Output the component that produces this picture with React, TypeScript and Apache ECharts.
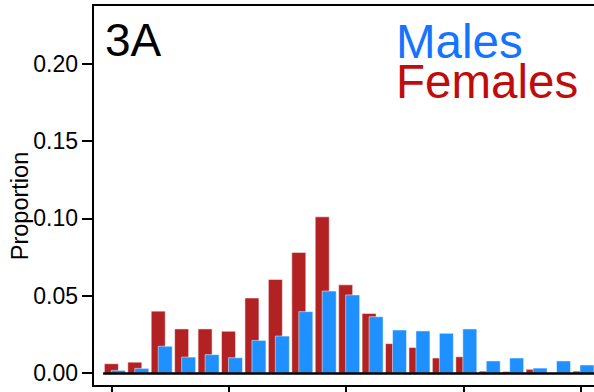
import { useEffect, useRef } from "react";
import * as echarts from "echarts";

// Histogram bins (index of each bin along the x axis)
const binIndex = [0, 1, 2, 3, 4, 5, 6, 7, 8, 9, 10, 11, 12, 13, 14, 15, 16, 17, 18, 19, 20];

// Proportion of individuals falling in each bin
const females = [
  0.006, 0.007, 0.04, 0.0285, 0.0285, 0.027, 0.0485, 0.0605, 0.078, 0.101, 0.057,
  0.0385, 0.019, 0.0165, 0.0097, 0.0105, 0.0012, 0.001, 0.0024, 0, 0.0012,
];
const males = [
  0.0017, 0.003, 0.0173, 0.0103, 0.0119, 0.0099, 0.0211, 0.0239, 0.0397, 0.053, 0.0505,
  0.0364, 0.0278, 0.0272, 0.0257, 0.0285, 0.0078, 0.0097, 0.0032, 0.0078, 0.0052,
];

// Axis ticks
const yTicks = [0, 0.05, 0.1, 0.15, 0.2];
const xTicks = [-0.13, 4.87, 9.87, 14.87, 19.87];

const panelLabel = "3A";
const yTitle = "Proportion";
const maleLabel = "Males";
const femaleLabel = "Females";

const FONT = "'Liberation Sans', Arial, Helvetica, sans-serif";
const RED = "#B22222";
const BLUE = "#1E90FF";
const BAR_W = 14;

// Draws one bar of a pair; the two sexes overlap by half a bar width
function pairedBar(color: string, shift: number) {
  return (_params: any, api: any) => {
    const x = api.value(0);
    const v = api.value(1);
    const base = api.coord([x, 0]);
    const top = api.coord([x, v]);
    return {
      type: "rect",
      shape: {
        x: base[0] + shift - BAR_W / 2,
        y: top[1],
        width: BAR_W,
        height: base[1] - top[1],
      },
      style: {
        fill: color,
        stroke: "rgba(255,255,255,0.5)",
        lineWidth: 1,
      },
    };
  };
}

export default function App() {
  const ref = useRef<HTMLDivElement>(null);

  useEffect(() => {
    if (!ref.current) return;
    const chart = echarts.init(ref.current, undefined, { renderer: "svg" });

    const option: any = {
      animation: false,
      backgroundColor: "#fff",
      grid: {
        left: 93,
        top: 5,
        width: 525.6,
        height: 381,
        show: true,
        borderColor: "#000",
        borderWidth: 2,
        backgroundColor: "transparent",
      },
      xAxis: {
        type: "value",
        min: -0.933,
        max: 21.5,
        axisLine: { show: false, onZero: false },
        axisTick: {
          show: true,
          inside: false,
          customValues: xTicks,
          length: 10,
          lineStyle: { color: "#000", width: 2 },
        },
        axisLabel: { show: false },
        splitLine: { show: false },
      },
      yAxis: {
        type: "value",
        min: -0.0084,
        max: 0.238,
        axisLine: { show: false, onZero: false },
        axisTick: {
          show: true,
          inside: false,
          customValues: yTicks,
          length: 11,
          lineStyle: { color: "#000", width: 2 },
        },
        axisLabel: {
          customValues: yTicks,
          formatter: (v: number) => v.toFixed(2),
          fontSize: 23,
          fontFamily: FONT,
          color: "#000",
          margin: 15,
        },
        splitLine: { show: false },
      },
      series: [
        {
          type: "custom",
          name: femaleLabel,
          renderItem: pairedBar(RED, -BAR_W / 4),
          encode: { x: 0, y: 1 },
          data: females.map((v, i) => [binIndex[i], v]),
          z: 2,
        },
        {
          type: "custom",
          name: maleLabel,
          renderItem: pairedBar(BLUE, BAR_W / 4),
          encode: { x: 0, y: 1 },
          data: males.map((v, i) => [binIndex[i], v]),
          z: 3,
        },
        {
          // zero baseline drawn across the bars
          type: "line",
          data: [],
          z: 4,
          markLine: {
            silent: true,
            symbol: "none",
            label: { show: false },
            lineStyle: { color: "#000", width: 2.5, type: "solid" },
            data: [[{ coord: [-0.5, 0] }, { coord: [21.5, 0] }]],
          },
        },
      ],
      graphic: [
        {
          type: "text",
          x: 105,
          y: 40,
          style: {
            text: panelLabel,
            fontSize: 46,
            fontFamily: FONT,
            fill: "#000",
            verticalAlign: "middle",
          },
        },
        {
          type: "text",
          x: 396,
          y: 21,
          style: {
            text: `{m|${maleLabel}}\n{f|${femaleLabel}}`,
            fontFamily: FONT,
            verticalAlign: "top",
            lineHeight: 40,
            rich: {
              m: { fontSize: 47.5, fontFamily: FONT, fill: "#1473FF", lineHeight: 40 },
              f: { fontSize: 47.5, fontFamily: FONT, fill: "#BF0C0C", lineHeight: 40 },
            },
          },
        },
        {
          type: "text",
          x: 19.5,
          y: 206,
          rotation: Math.PI / 2,
          style: {
            text: yTitle,
            fontSize: 23.5,
            fontFamily: FONT,
            fill: "#000",
            align: "center",
            verticalAlign: "middle",
          },
        },
      ],
    };

    chart.setOption(option);
    return () => chart.dispose();
  }, []);

  // The plotting frame runs on past the right edge of the page, so the
  // chart surface is wider than the visible window.
  return (
    <div style={{ position: "fixed", left: 0, top: 0, width: 594, height: 392, overflow: "hidden", background: "#fff" }}>
      <div ref={ref} style={{ width: 640, height: 392 }} />
    </div>
  );
}
